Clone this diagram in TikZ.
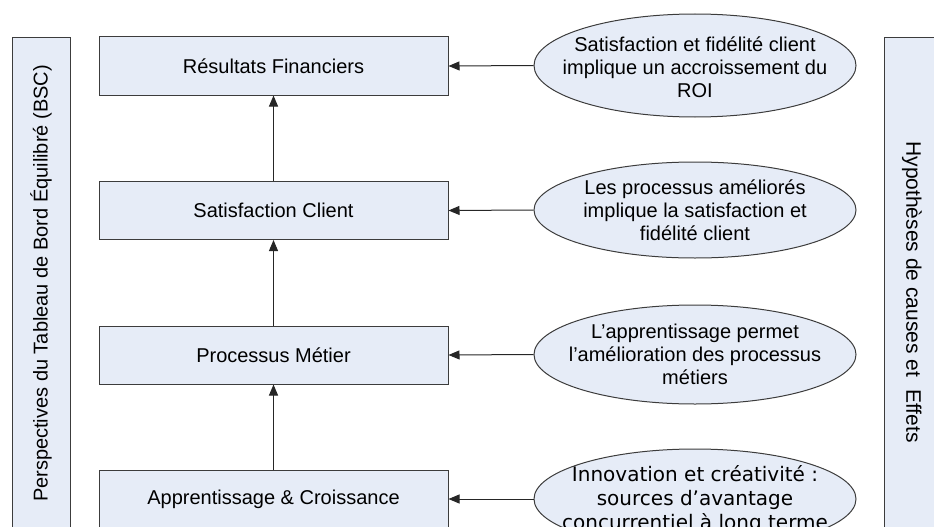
\documentclass[tikz,border=0pt]{standalone}
\usepackage{fontspec}
\setmainfont{Liberation Sans}
\newfontfamily\verd{DejaVu Sans}
\usetikzlibrary{arrows.meta,shapes.geometric}
\definecolor{boxfill}{RGB}{230,236,247}
\definecolor{edgecol}{RGB}{60,60,60}
\begin{document}
\begin{tikzpicture}[x=1pt,y=-1pt,
  box/.style={draw=edgecol,fill=boxfill,line width=1pt,minimum width=349pt,minimum height=58pt,inner sep=0pt,font=\fontsize{20}{23}\selectfont},
  oval/.style={draw=edgecol,fill=boxfill,line width=1pt,ellipse,minimum width=322pt,inner sep=0pt},
  otext/.style={align=center,inner sep=0pt,font=\fontsize{20}{23}\selectfont},
  vtext/.style={inner sep=0pt,font=\fontsize{20}{23}\selectfont},
  side/.style={draw=edgecol,fill=boxfill,line width=1pt,minimum width=58pt,minimum height=520pt,inner sep=0pt,anchor=north west},
  arr/.style={-{Triangle[length=11pt,width=9pt]},line width=1pt,draw=black!85}
]
\useasboundingbox (0,0) rectangle (934,527);
\begin{scope}
\clip (0,0) rectangle (934,527);
% side panels
\node[side] (lside) at (12,37) {};
\node[side] (rside) at (884,37) {};
\node[vtext,rotate=90] (ltext) at (41,283.5) {Perspectives du Tableau de Bord Équilibré (BSC)};
\node[vtext,rotate=-90,font=\fontsize{21}{23}\selectfont] (rtext) at (912,292) {Hypothèses de causes et\hspace{12pt}Effets};
% boxes
\node[box] (b1) at (273.5,66) {Résultats Financiers};
\node[box] (b2) at (273.5,210.5) {Satisfaction Client};
\node[box] (b3) at (273.5,355) {Processus Métier};
\node[box] (b4) at (273.5,499) {Apprentissage \& Croissance};
% ellipses
\node[oval,minimum height=103pt] (e1) at (695,65.5) {};
\node[oval,minimum height=96pt] (e2) at (695,210) {};
\node[oval,minimum height=99pt] (e3) at (695,354.5) {};
\node[oval,minimum height=100pt] (e4) at (695,499) {};
\node[otext] (t1) at ([yshift=-2pt]e1.center) {Satisfaction et fidélité client\\implique un accroissement du\\ROI};
\node[otext] (t2) at (e2.center) {Les processus améliorés\\implique la satisfaction et\\fidélité client};
\node[otext] (t3) at (e3.center) {L’apprentissage permet\\l’amélioration des processus\\métiers};
\node[otext,font=\verd\fontsize{20}{24}\selectfont] (t4) at ([yshift=-1pt]e4.center) {Innovation et créativité :\\sources d’avantage\\concurrentiel à long terme};
% connectors
\draw[arr] (b4.north) -- (b3.south);
\draw[arr] (b3.north) -- (b2.south);
\draw[arr] (b2.north) -- (b1.south);
\draw[arr] (e1.west) -- (b1.east);
\draw[arr] (e2.west) -- (b2.east);
\draw[arr] (e3.west) -- (b3.east);
\draw[arr] (e4.west) -- (b4.east);
\end{scope}
\end{tikzpicture}
\end{document}
